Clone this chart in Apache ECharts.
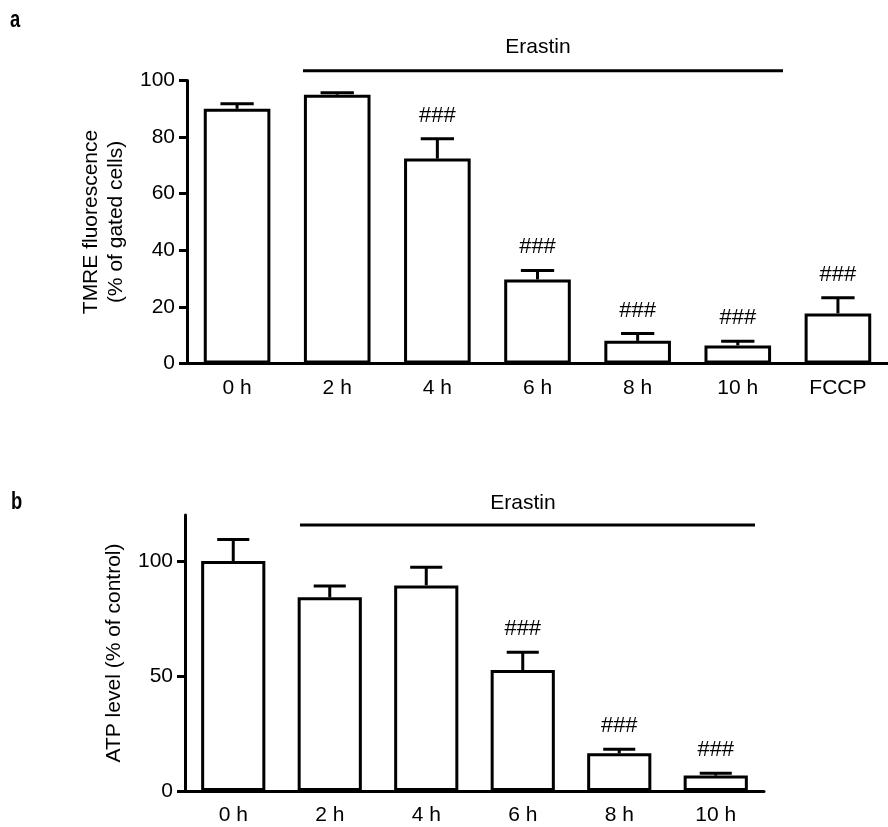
<!DOCTYPE html>
<html>
<head>
<meta charset="utf-8">
<script src="https://cdn.jsdelivr.net/npm/echarts@6/dist/echarts.min.js"></script>
<style>
  html, body { margin: 0; padding: 0; background: #fff; }
  #chart { width: 888px; height: 827px; }
</style>
</head>
<body>
<div id="chart"></div>
<script>
// panel a - TMRE
var catsA = ['0 h', '2 h', '4 h', '6 h', '8 h', '10 h', 'FCCP']
var valsA = [90, 95, 72.4, 29.7, 8.0, 6.4, 17.7]
var errA = [1.8, 0.7, 7.0, 3.2, 2.6, 1.5, 5.5]
var sigA = ['', '', '###', '###', '###', '###', '###']
var ticksA = [0, 20, 40, 60, 80, 100]

// panel b - ATP
var catsB = ['0 h', '2 h', '4 h', '6 h', '8 h', '10 h']
var valsB = [100, 84.2, 89.4, 52.6, 16.4, 6.7]
var errB = [9.3, 4.9, 7.9, 7.7, 1.7, 1.0]
var sigB = ['', '', '', '###', '###', '###']
var ticksB = [0, 50, 100]

var FONT = "'Liberation Sans', Arial, sans-serif"
var chart = echarts.init(document.getElementById('chart'))

// 误差线 + 显著性标记
function errRender(sig) {
  return function(params, api) {
    var i = api.value(0)
    var top = api.coord([i, api.value(1)])
    var cap = api.coord([i, api.value(1) + api.value(2)])
    var half = api.size([1, 0])[0] * 0.665 / 4
    var st = { stroke: '#000', lineWidth: 3 }
    var kids = [
      { type: 'line', shape: { x1: top[0], y1: top[1], x2: cap[0], y2: cap[1] }, style: st },
      { type: 'line', shape: { x1: cap[0] - half, y1: cap[1], x2: cap[0] + half, y2: cap[1] }, style: st }
    ]
    if (sig[params.dataIndex]) {
      kids.push({
        type: 'text',
        style: {
          text: sig[params.dataIndex], x: cap[0], y: cap[1] - 23,
          align: 'center', verticalAlign: 'middle',
          font: '22px ' + FONT, fill: '#000'
        }
      })
    }
    return { type: 'group', children: kids }
  }
}

function catAxis(idx, cats) {
  return {
    type: 'category', gridIndex: idx, data: cats,
    axisLine: { lineStyle: { color: '#000', width: 3 } },
    axisTick: { alignWithLabel: true, length: 8, lineStyle: { color: '#000', width: 3 } },
    axisLabel: { color: '#000', fontSize: 21, fontFamily: FONT, margin: 14 },
    splitLine: { show: false }
  }
}

function valAxis(idx, max, ticks, name, gap) {
  return {
    type: 'value', gridIndex: idx, min: 0, max: max,
    name: name, nameLocation: 'middle', nameRotate: 90, nameGap: gap,
    nameTextStyle: { color: '#000', fontSize: 21, fontFamily: FONT, lineHeight: 25 },
    axisLine: { show: true, lineStyle: { color: '#000', width: 3 } },
    axisTick: { show: true, length: 8, lineStyle: { color: '#000', width: 3 }, customValues: ticks },
    axisLabel: { color: '#000', fontSize: 21, fontFamily: FONT, margin: 12, customValues: ticks },
    splitLine: { show: false }
  }
}

function barSeries(idx, vals) {
  return {
    type: 'bar', xAxisIndex: idx, yAxisIndex: idx, data: vals,
    barWidth: '66.5%',
    itemStyle: { color: '#fff', borderColor: '#000', borderWidth: 3 },
    silent: true
  }
}

function errSeries(idx, vals, errs, sig) {
  return {
    type: 'custom', xAxisIndex: idx, yAxisIndex: idx, clip: false, silent: true,
    renderItem: errRender(sig),
    encode: { x: 0, y: 1 },
    data: vals.map(function(v, i) { return [i, v, errs[i]] }),
    z: 3
  }
}

chart.setOption({
  animation: false,
  backgroundColor: '#fff',
  grid: [
    { left: 187, top: 80.5, width: 709, height: 283 },
    { left: 185, top: 515, width: 579, height: 276 }
  ],
  xAxis: [catAxis(0, catsA), catAxis(1, catsB)],
  yAxis: [
    valAxis(0, 100, ticksA, 'TMRE fluorescence\n(% of gated cells)', 57),
    valAxis(1, 120, ticksB, 'ATP level (% of control)', 53)
  ],
  series: [
    barSeries(0, valsA), errSeries(0, valsA, errA, sigA),
    barSeries(1, valsB), errSeries(1, valsB, errB, sigB)
  ],
  graphic: [
    { type: 'text', x: 10, y: 9, scaleX: 0.8, style: { text: 'a', font: 'bold 23px ' + FONT, fill: '#000' } },
    { type: 'text', x: 11, y: 491, scaleX: 0.8, style: { text: 'b', font: 'bold 23px ' + FONT, fill: '#000' } },
    // Erastin 处理线
    { type: 'line', shape: { x1: 303, y1: 70.7, x2: 783, y2: 70.7 }, style: { stroke: '#000', lineWidth: 3 } },
    { type: 'text', x: 538, y: 47, style: { text: 'Erastin', align: 'center', verticalAlign: 'middle', font: '21px ' + FONT, fill: '#000' } },
    { type: 'line', shape: { x1: 300, y1: 525, x2: 755, y2: 525 }, style: { stroke: '#000', lineWidth: 3 } },
    { type: 'text', x: 523, y: 503, style: { text: 'Erastin', align: 'center', verticalAlign: 'middle', font: '21px ' + FONT, fill: '#000' } }
  ]
})
</script>
</body>
</html>
